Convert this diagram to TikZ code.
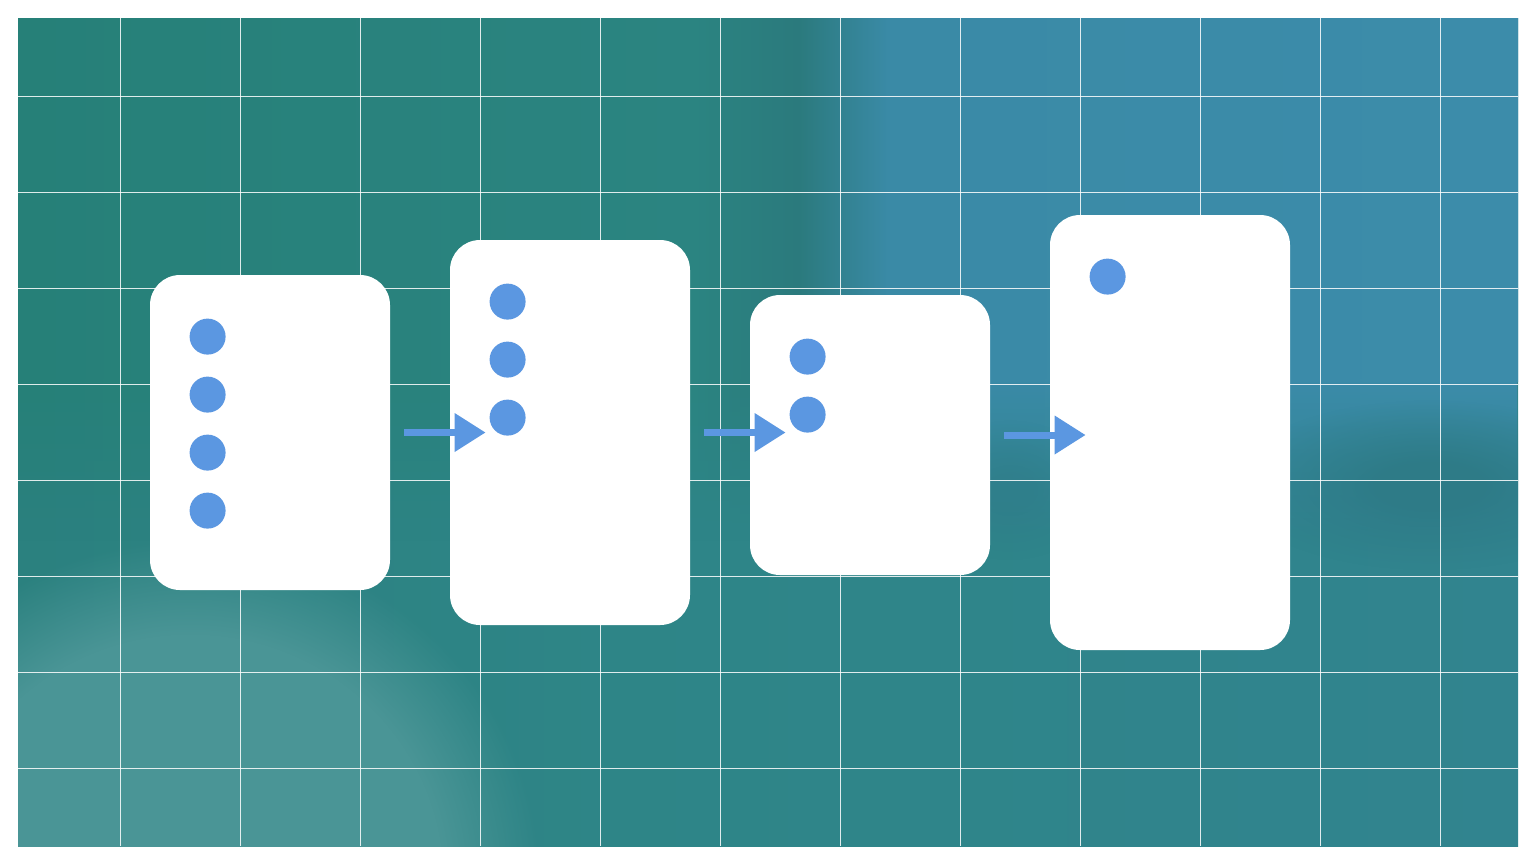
\documentclass[tikz,border=0pt]{standalone}
\usetikzlibrary{arrows.meta,fadings}
\definecolor{dotblue}{HTML}{5B97E1}
\definecolor{tA}{HTML}{268078}
\definecolor{tB}{HTML}{2B8481}
\definecolor{tC}{HTML}{2B7A7D}
\definecolor{tD}{HTML}{3A8AA6}
\definecolor{tE}{HTML}{3C8CAA}
\definecolor{mA}{HTML}{2B817F}
\definecolor{mB}{HTML}{2E8587}
\definecolor{mC}{HTML}{31848F}
\definecolor{lightteal}{HTML}{4A9596}
\definecolor{darkteal}{HTML}{2E7B87}
\pgfdeclarehorizontalshading{topshade}{100bp}{color(0bp)=(tA); color(25bp)=(tA); color(47.5bp)=(tB); color(51bp)=(tC); color(54bp)=(tD); color(75bp)=(tE); color(100bp)=(tE)}
\pgfdeclarehorizontalshading{lowshade}{100bp}{color(0bp)=(mA); color(25bp)=(mA); color(45bp)=(mB); color(75bp)=(mC); color(100bp)=(mC)}
\tikzfading[name=topfade, top color=transparent!0, bottom color=transparent!100]
\pgfdeclareradialshading{softedgeshade}{\pgfpointorigin}{color(0bp)=(pgftransparent!0); color(18bp)=(pgftransparent!0); color(25bp)=(pgftransparent!100); color(50bp)=(pgftransparent!100)}
\pgfdeclarefading{softedge}{\pgfuseshading{softedgeshade}}
\pgfdeclareradialshading{softblobshade}{\pgfpointorigin}{color(0bp)=(pgftransparent!0); color(6bp)=(pgftransparent!0); color(25bp)=(pgftransparent!100); color(50bp)=(pgftransparent!100)}
\pgfdeclarefading{softblob}{\pgfuseshading{softblobshade}}

\begin{document}
\begin{tikzpicture}[x=0.5pt,y=-0.5pt,
    card/.style={fill=white, rounded corners=15pt, inner sep=0pt, minimum width=120pt},
    dot/.style={circle, fill=dotblue, inner sep=0pt, minimum size=18pt},
    flow/.style={draw=dotblue, line width=3.5pt, -{Triangle[length=15.5pt,width=18.5pt]}},
    gridline/.style={white, line width=0.5pt, opacity=0.85}]
    \useasboundingbox (0,0) rectangle (1536,864);
    \begin{scope}
        \clip (18,18) rectangle (1518,846);
        \shade[shading=lowshade] (18,18) rectangle (1518,846);
        \shade[shading=topshade] (18,18) rectangle (1518,381);
        \shade[shading=topshade, path fading=topfade] (18,380) rectangle (1518,540);
        \fill[darkteal, path fading=softblob] (1430,485) ellipse (200 and 85);
        \fill[darkteal, opacity=0.6, path fading=softblob] (1010,490) ellipse (90 and 70);
        \fill[lightteal, path fading=softedge] (190,880) ellipse (350 and 340);
        \foreach \x in {120,240,...,1440}
            \draw[gridline] (\x,18) -- (\x,846);
        \foreach \y in {96,192,...,768}
            \draw[gridline] (18,\y) -- (1518,\y);
    \end{scope}
    \foreach \n/\x/\t/\b/\k in {1/150/275/590/4,2/450/240/625/3,3/750/295/575/2,4/1050/215/650/1}{
        \node[card, minimum height={(\b-\t)*0.5pt}] (c\n) at ({\x+120},{(\t+\b)/2}) {};
        \foreach \j in {1,...,\k}
            \node[dot] (c\n-\j) at ([shift={(58,{4+58*\j})}]c\n.north west) {};
    }
    \foreach \a/\b in {1/2,2/3,3/4}
        \draw[flow] ([xshift=7pt]c\a.east) -- ([xshift=18pt]c\b.west |- c\a.east);
\end{tikzpicture}
\end{document}
